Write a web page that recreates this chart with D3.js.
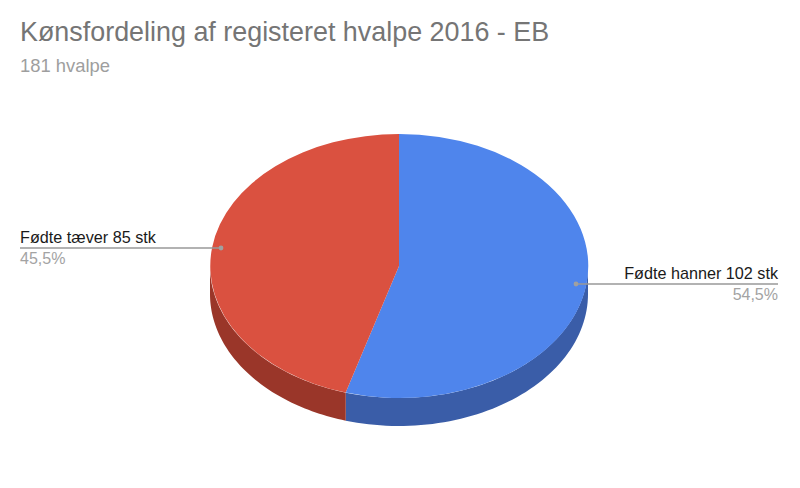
<!DOCTYPE html>
<html><head><meta charset="utf-8">
<script src="https://cdnjs.cloudflare.com/ajax/libs/d3/7.8.5/d3.min.js"></script>
<style>html,body{margin:0;padding:0;background:#fff}svg{display:block}text{font-family:"Liberation Sans",Arial,sans-serif}</style>
</head><body><svg id="c" width="800" height="488"></svg>
<script>
const title = "Kønsfordeling af registeret hvalpe 2016 - EB";
const subtitle = "181 hvalpe";
const categories = ["Fødte hanner 102 stk", "Fødte tæver 85 stk"];
const values = [102, 85];
const percentLabels = ["54,5%", "45,5%"];
const topColors = ["#4f85ec", "#da5140"];
const wallColors = ["#3a5da8", "#9a3629"];

const cx = 399, cy = 266, rx = 189, ry = 132, depth = 28;
const svg = d3.select("#c");

svg.append("text").attr("x", 20).attr("y", 41).attr("font-size", 26.9).attr("fill", "#757575").text(title);
svg.append("text").attr("x", 20).attr("y", 72).attr("font-size", 18.4).attr("fill", "#9e9e9e").text(subtitle);

const slices = d3.pie().sort(null).value(d => d)(values);
const px = d3.scaleLinear().domain([-1, 1]).range([cx - rx, cx + rx]);
const py = d3.scaleLinear().domain([-1, 1]).range([cy - ry, cy + ry]);

// side wall: visible part of the rim, angles measured clockwise from 12 o'clock
const rim = (a0, a1) => d3.range(0, 61).map(i => a0 + (a1 - a0) * i / 60);
slices.forEach((s, i) => {
  const a0 = Math.max(s.startAngle, Math.PI / 2), a1 = Math.min(s.endAngle, Math.PI * 1.5);
  if (a1 <= a0) return;
  const area = d3.area()
    .x(a => px(Math.sin(a)))
    .y0(a => py(-Math.cos(a)))
    .y1(a => py(-Math.cos(a)) + depth);
  svg.append("path").attr("d", area(rim(a0, a1))).attr("fill", wallColors[i]);
});

// top face
const arc = d3.arc().innerRadius(0).outerRadius(1);
const topFace = svg.append("g").attr("transform", `translate(${cx},${cy}) scale(${rx},${ry})`);
topFace.selectAll("path").data(slices).join("path").attr("d", arc).attr("fill", (d, i) => topColors[i]);

// leader lines and labels
const leaderY = [284, 248], dotX = [576, 221], endX = [778, 20], anchors = ["end", "start"];
categories.forEach((c, i) => {
  svg.append("line").attr("x1", dotX[i]).attr("x2", endX[i]).attr("y1", leaderY[i]).attr("y2", leaderY[i])
    .attr("stroke", "#999").attr("stroke-width", 1.3);
  svg.append("circle").attr("cx", dotX[i]).attr("cy", leaderY[i]).attr("r", 2.4).attr("fill", "#a0a0a0");
  svg.append("text").attr("x", endX[i]).attr("y", leaderY[i] - 5).attr("text-anchor", anchors[i])
    .attr("font-size", 16.2).attr("fill", "#1a1a1a").text(c);
  svg.append("text").attr("x", endX[i]).attr("y", leaderY[i] + 16).attr("text-anchor", anchors[i])
    .attr("font-size", 16).attr("fill", "#a3a3a3").text(percentLabels[i]);
});
</script></body></html>
